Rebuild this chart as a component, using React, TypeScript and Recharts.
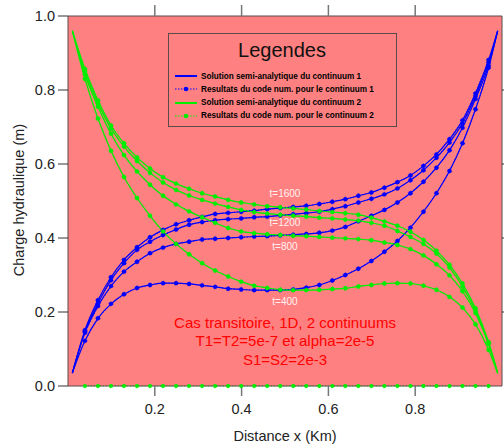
import React from 'react';
import { ComposedChart, Line, XAxis, YAxis, ReferenceArea } from 'recharts';

const FONT = '"Liberation Sans", Arial, Helvetica, sans-serif';
const BLUE = '#0000ff';
const GREEN = '#00ee00';
const BG = '#ff8080';
const FRAME = '#5a4a4a';

// grid of the numerical code (markers)
const X_NUM = [
  0.039, 0.069, 0.099, 0.129, 0.159, 0.189, 0.219, 0.249, 0.279, 0.309, 0.339,
  0.369, 0.399, 0.429, 0.459, 0.489, 0.519, 0.549, 0.579, 0.609, 0.639, 0.669,
  0.699, 0.729, 0.759, 0.789, 0.819, 0.849, 0.879, 0.909, 0.939, 0.969,
];
// semi-analytic curves also have a first and last point near the boundaries
const X_ALL = [0.01, ...X_NUM, 0.99];

// continuum 1 (blue), values at X_ALL
const C1_T400 = [
  0.035, 0.122, 0.183, 0.222, 0.248, 0.265, 0.273, 0.278, 0.278, 0.276, 0.272, 0.268,
  0.263, 0.261, 0.259, 0.259, 0.259, 0.261, 0.266, 0.273, 0.285, 0.3, 0.317, 0.338,
  0.363, 0.392, 0.428, 0.471, 0.521, 0.581, 0.656, 0.748, 0.86, 0.96,
];
const C1_T800 = [
  0.035, 0.144, 0.216, 0.27, 0.309, 0.336, 0.359, 0.374, 0.384, 0.39, 0.396, 0.398,
  0.4, 0.402, 0.404, 0.405, 0.407, 0.409, 0.411, 0.414, 0.42, 0.43, 0.445, 0.46,
  0.476, 0.496, 0.521, 0.552, 0.59, 0.637, 0.698, 0.776, 0.866, 0.96,
];
const C1_T1200 = [
  0.035, 0.147, 0.223, 0.286, 0.332, 0.368, 0.39, 0.408, 0.423, 0.436, 0.443, 0.448,
  0.451, 0.453, 0.456, 0.458, 0.461, 0.464, 0.467, 0.471, 0.478, 0.486, 0.496, 0.506,
  0.518, 0.534, 0.556, 0.583, 0.617, 0.658, 0.71, 0.784, 0.874, 0.96,
];
const C1_T1600 = [
  0.035, 0.151, 0.232, 0.294, 0.341, 0.375, 0.402, 0.422, 0.437, 0.448, 0.457, 0.465,
  0.468, 0.471, 0.474, 0.478, 0.481, 0.484, 0.487, 0.492, 0.498, 0.505, 0.514, 0.523,
  0.536, 0.551, 0.569, 0.595, 0.626, 0.667, 0.718, 0.791, 0.881, 0.96,
];

// continuum 2 (green), values at X_ALL
const C2_T400 = [
  0.96, 0.83, 0.723, 0.636, 0.565, 0.508, 0.46, 0.418, 0.384, 0.356, 0.332, 0.312,
  0.296, 0.282, 0.271, 0.265, 0.26, 0.259, 0.259, 0.26, 0.262, 0.264, 0.269, 0.273,
  0.277, 0.278, 0.277, 0.271, 0.26, 0.241, 0.212, 0.167, 0.098, 0.035,
];
const C2_T800 = [
  0.96, 0.842, 0.755, 0.682, 0.624, 0.58, 0.544, 0.514, 0.491, 0.472, 0.456, 0.441,
  0.427, 0.418, 0.413, 0.41, 0.408, 0.406, 0.405, 0.403, 0.401, 0.399, 0.397, 0.394,
  0.388, 0.381, 0.37, 0.353, 0.329, 0.299, 0.256, 0.197, 0.114, 0.035,
];
const C2_T1200 = [
  0.96, 0.85, 0.764, 0.696, 0.647, 0.608, 0.576, 0.55, 0.53, 0.515, 0.503, 0.493,
  0.484, 0.476, 0.47, 0.466, 0.463, 0.46, 0.458, 0.455, 0.453, 0.45, 0.447, 0.441,
  0.433, 0.419, 0.403, 0.384, 0.358, 0.32, 0.269, 0.203, 0.116, 0.035,
];
const C2_T1600 = [
  0.96, 0.857, 0.772, 0.704, 0.656, 0.618, 0.588, 0.564, 0.547, 0.533, 0.521, 0.512,
  0.503, 0.496, 0.491, 0.486, 0.483, 0.48, 0.477, 0.473, 0.47, 0.467, 0.463, 0.455,
  0.445, 0.433, 0.417, 0.395, 0.366, 0.328, 0.277, 0.21, 0.119, 0.035,
];
// numerical result for continuum 2 lying on the axis (at X_NUM)
const C2_T0 = [
  0, 0, 0, 0, 0, 0, 0, 0, 0, 0, 0, 0, 0, 0, 0, 0,
  0, 0, 0, 0, 0, 0, 0, 0, 0, 0, 0, 0, 0, 0, 0, 0,
];

const X_TICKS = [0.2, 0.4, 0.6, 0.8];
const Y_TICKS = [0, 0.2, 0.4, 0.6, 0.8, 1.0];

const TIME_LABELS = [
  { text: 't=1600', y: 194 },
  { text: 't=1200', y: 223 },
  { text: 't=800', y: 247 },
  { text: 't=400', y: 302 },
];
const NOTE_LINES = ['Cas transitoire, 1D, 2 continuums', 'T1=T2=5e-7 et alpha=2e-5', 'S1=S2=2e-3'];

const LEGEND_ITEMS = [
  { label: 'Solution semi-analytique du continuum 1', color: BLUE, dotted: false },
  { label: 'Resultats du code num. pour le continuum 1', color: BLUE, dotted: true },
  { label: 'Solution semi-analytique du continuum 2', color: GREEN, dotted: false },
  { label: 'Resultats du code num. pour le continuum 2', color: GREEN, dotted: true },
];

const SERIES = [
  { key: 'b400', values: C1_T400, color: BLUE },
  { key: 'b800', values: C1_T800, color: BLUE },
  { key: 'b1200', values: C1_T1200, color: BLUE },
  { key: 'b1600', values: C1_T1600, color: BLUE },
  { key: 'g400', values: C2_T400, color: GREEN },
  { key: 'g800', values: C2_T800, color: GREEN },
  { key: 'g1200', values: C2_T1200, color: GREEN },
  { key: 'g1600', values: C2_T1600, color: GREEN },
];

const last = X_ALL.length - 1;
const rows = X_ALL.map((x, i) => {
  const r: Record<string, number | null> = { x };
  const inner = i > 0 && i < last;
  SERIES.forEach((s) => {
    r[s.key] = s.values[i];
    r['n' + s.key] = inner ? s.values[i] : null;
  });
  r.g0 = inner ? C2_T0[i - 1] : null;
  return r;
});

const tickStyle = { fill: '#222', fontSize: 14.5, fontFamily: FONT };

function Centered({ x, y, children, style }: any) {
  return (
    <div
      style={{
        position: 'absolute',
        left: x,
        top: y,
        transform: 'translate(-50%, -50%)',
        whiteSpace: 'nowrap',
        lineHeight: 1,
        fontFamily: FONT,
        ...style,
      }}
    >
      {children}
    </div>
  );
}

export default function App() {
  return (
    <div style={{ position: 'absolute', left: 0, top: 0, width: 504, height: 448, background: '#fff' }}>
      <ComposedChart width={504} height={448} data={rows} margin={{ top: 0, right: 0, bottom: 0, left: 0 }}>
        <ReferenceArea x1={0} x2={1} y1={0} y2={1} fill={BG} fillOpacity={1} stroke="none" />
        <XAxis
          dataKey="x"
          type="number"
          domain={[0, 1]}
          ticks={X_TICKS}
          height={62}
          tickSize={10}
          tickMargin={8}
          tick={tickStyle}
          tickLine={{ stroke: '#777', strokeWidth: 1.5 }}
          axisLine={{ stroke: FRAME }}
        />
        <XAxis
          xAxisId="top"
          dataKey="x"
          orientation="top"
          type="number"
          domain={[0, 1]}
          allowDataOverflow
          ticks={X_TICKS}
          height={16}
          tickSize={11}
          tickFormatter={() => ''}
          tickLine={{ stroke: '#777', strokeWidth: 1.5 }}
          axisLine={{ stroke: FRAME }}
        />
        <YAxis
          type="number"
          domain={[0, 1]}
          ticks={Y_TICKS}
          width={68}
          tickSize={10}
          tickMargin={3}
          tick={tickStyle}
          tickFormatter={(v: number) => v.toFixed(1)}
          tickLine={{ stroke: '#333' }}
          axisLine={{ stroke: FRAME }}
        />
        <YAxis
          yAxisId="r"
          orientation="right"
          type="number"
          domain={[0, 1]}
          allowDataOverflow
          ticks={[0.2, 0.4, 0.6, 0.8]}
          width={2}
          tickSize={8}
          tickFormatter={() => ''}
          tickLine={{ stroke: '#333' }}
          axisLine={{ stroke: FRAME }}
        />
        {SERIES.map((s) => (
          <Line
            key={s.key}
            dataKey={s.key}
            type="monotone"
            stroke={s.color}
            strokeWidth={1.2}
            dot={false}
            isAnimationActive={false}
          />
        ))}
        {SERIES.map((s) => (
          <Line
            key={'n' + s.key}
            dataKey={'n' + s.key}
            type="linear"
            stroke={s.color}
            strokeWidth={1}
            strokeDasharray="1 2"
            dot={{ r: 2.2, fill: s.color, stroke: s.color, strokeWidth: 0.5 }}
            isAnimationActive={false}
          />
        ))}
        <Line
          dataKey="g0"
          type="linear"
          stroke={GREEN}
          strokeWidth={1}
          strokeDasharray="1 2"
          dot={{ r: 2, fill: GREEN, stroke: GREEN, strokeWidth: 0.5 }}
          isAnimationActive={false}
        />
      </ComposedChart>

      {/* legend box */}
      <div
        style={{
          position: 'absolute',
          left: 168,
          top: 33,
          width: 229,
          height: 94,
          boxSizing: 'border-box',
          border: `1.5px solid ${FRAME}`,
          fontFamily: FONT,
        }}
      >
        <Centered x={113} y={16} style={{ fontSize: 20, color: '#111' }}>
          Legendes
        </Centered>
        {LEGEND_ITEMS.map((it, i) => (
          <div
            key={it.label}
            style={{ position: 'absolute', left: 5, top: 37 + i * 13.3, height: 10, display: 'flex', alignItems: 'center' }}
          >
            <svg width={24} height={10} style={{ display: 'block' }}>
              {it.dotted ? (
                <>
                  <line x1={1} y1={5} x2={23} y2={5} stroke={it.color} strokeWidth={1} strokeDasharray="1.5 1.5" />
                  <circle cx={12} cy={5} r={2.3} fill={it.color} />
                </>
              ) : (
                <line x1={1} y1={5} x2={23} y2={5} stroke={it.color} strokeWidth={2} />
              )}
            </svg>
            <span style={{ marginLeft: 3, fontSize: 8.2, fontWeight: 'bold', color: '#000', whiteSpace: 'nowrap' }}>
              {it.label}
            </span>
          </div>
        ))}
      </div>

      {TIME_LABELS.map((t) => (
        <Centered key={t.text} x={285} y={t.y} style={{ fontSize: 10, color: '#fff2f2' }}>
          {t.text}
        </Centered>
      ))}

      {NOTE_LINES.map((l, i) => (
        <Centered key={l} x={285} y={322 + i * 18.3} style={{ fontSize: 15, color: '#ff0000' }}>
          {l}
        </Centered>
      ))}

      <Centered x={19} y={200} style={{ fontSize: 14.5, color: '#222', transform: 'translate(-50%, -50%) rotate(-90deg)' }}>
        Charge hydraulique (m)
      </Centered>
      <Centered x={285} y={436} style={{ fontSize: 14.5, color: '#222' }}>
        Distance x (Km)
      </Centered>
    </div>
  );
}
